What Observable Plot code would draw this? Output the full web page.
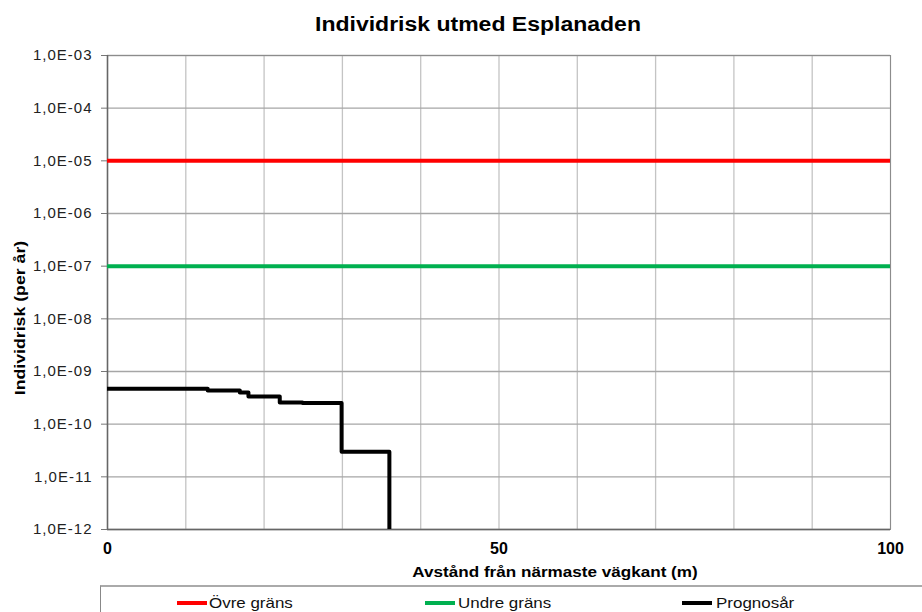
<!DOCTYPE html>
<html>
<head>
<meta charset="utf-8">
<script src="https://cdn.jsdelivr.net/npm/d3@7"></script>
<script src="https://cdn.jsdelivr.net/npm/@observablehq/plot@0.6"></script>
<style>
  html, body { margin: 0; padding: 0; background: #fff; }
  #wrap { position: relative; width: 922px; height: 612px; overflow: hidden; background: #fff;
          font-family: "Liberation Sans", Arial, sans-serif; color: #000; }
  #title { position: absolute; top: 13px; left: 478px; transform: translateX(-50%) scaleX(1.15);
           font-size: 20px; font-weight: bold; white-space: nowrap; }
  #ylab { position: absolute; left: 20px; top: 318px; transform: translate(-50%, -50%) rotate(-90deg) scaleX(1.22);
          font-size: 14.5px; font-weight: bold; white-space: nowrap; }
  #xlab { position: absolute; top: 563px; left: 555px; transform: translateX(-50%) scaleX(1.14);
          font-size: 15px; font-weight: bold; white-space: nowrap; }
  #legendBox { position: absolute; top: 585px; left: 100px; width: 900px; height: 40px;
            border-top: 2px solid #aaa; border-left: 1px solid #888; }
  .sw { position: absolute; top: 601px; width: 30px; height: 4px; }
  .lt { position: absolute; top: 594px; font-size: 15px; white-space: nowrap; transform-origin: left center;
        transform: scaleX(1.13); color: #111; }
  svg { position: absolute; top: 0; left: 0; }
</style>
</head>
<body>
<div id="wrap">
  <div id="title"></div>
  <div id="chart"></div>
  <div id="ylab"></div>
  <div id="xlab"></div>
  <div id="legendBox"></div>
</div>
<script>
// ---- data ----
const title = "Individrisk utmed Esplanaden";
const xLabel = "Avstånd från närmaste vägkant (m)";
const yLabel = "Individrisk (per år)";
const seriesNames = ["Övre gräns", "Undre gräns", "Prognosår"];
const seriesColors = ["#ff0000", "#00b050", "#000000"];
const upperLimit = 1e-5;
const lowerLimit = 1e-7;
const distance = [0, 12.8, 16.9, 18.0, 22.0, 24.9, 29.9, 36.0];
const risk = [4.7e-10, 4.35e-10, 4.0e-10, 3.35e-10, 2.58e-10, 2.51e-10, 3.0e-11, 1e-14];
const xGrid = [0, 10, 20, 30, 40, 50, 60, 70, 80, 90, 100];
const xTickLabels = [0, 50, 100];
const yTicks = [1e-3, 1e-4, 1e-5, 1e-6, 1e-7, 1e-8, 1e-9, 1e-10, 1e-11, 1e-12];

const prognos = distance.map((d, i) => ({x: d, y: risk[i]}));
const fmt = d => "1,0E-" + String(-Math.round(Math.log10(d))).padStart(2, "0");

document.getElementById("title").textContent = title;
document.getElementById("xlab").textContent = xLabel;
document.getElementById("ylab").textContent = yLabel;

const chart = Plot.plot({
  width: 922,
  height: 560,
  marginLeft: 107,
  marginRight: 32,
  marginTop: 55,
  marginBottom: 31,
  x: {domain: [0, 100]},
  y: {type: "log", domain: [1e-12, 1e-3]},
  style: {fontFamily: "'Liberation Sans', Arial, sans-serif", fontSize: "15px", color: "#000", background: "transparent"},
  marks: [
    Plot.gridX(xGrid, {stroke: "#c4c4c4", strokeOpacity: 1, strokeWidth: 1.3}),
    Plot.gridY(yTicks, {stroke: "#a6a6a6", strokeOpacity: 1, strokeWidth: 1.3}),
    Plot.frame({stroke: "#8c8c8c"}),
    Plot.axisY(yTicks, {tickSize: 6, tickPadding: 9, tickFormat: fmt, label: null, stroke: "#777", fill: "#222",
                        fontSize: 15, style: "letter-spacing: 1px"}),
    Plot.axisX(xTickLabels, {tickSize: 0, tickPadding: 13, label: null, fontWeight: "bold", fontSize: 16}),
    Plot.ruleX([0], {stroke: "#666", strokeWidth: 1.5}),
    Plot.ruleY([1e-12], {stroke: "#666", strokeWidth: 1.5}),
    Plot.ruleY([upperLimit], {stroke: seriesColors[0], strokeWidth: 4}),
    Plot.ruleY([lowerLimit], {stroke: seriesColors[1], strokeWidth: 4}),
    Plot.line(prognos, {x: "x", y: "y", curve: "step-after", stroke: seriesColors[2], strokeWidth: 4, clip: true})
  ]
});
document.getElementById("chart").appendChild(chart);
chart.querySelectorAll("g[aria-label='y-axis tick label'] text").forEach(t => t.setAttribute("letter-spacing", "1"));

const wrap = document.getElementById("wrap");
const swLeft = [177, 425, 682];
const txtLeft = [209, 458, 716];
seriesNames.forEach((n, i) => {
  const sw = document.createElement("div");
  sw.className = "sw";
  sw.style.left = swLeft[i] + "px";
  sw.style.background = seriesColors[i];
  wrap.appendChild(sw);
  const t = document.createElement("div");
  t.className = "lt";
  t.style.left = txtLeft[i] + "px";
  t.textContent = n;
  wrap.appendChild(t);
});
</script>
</body>
</html>
